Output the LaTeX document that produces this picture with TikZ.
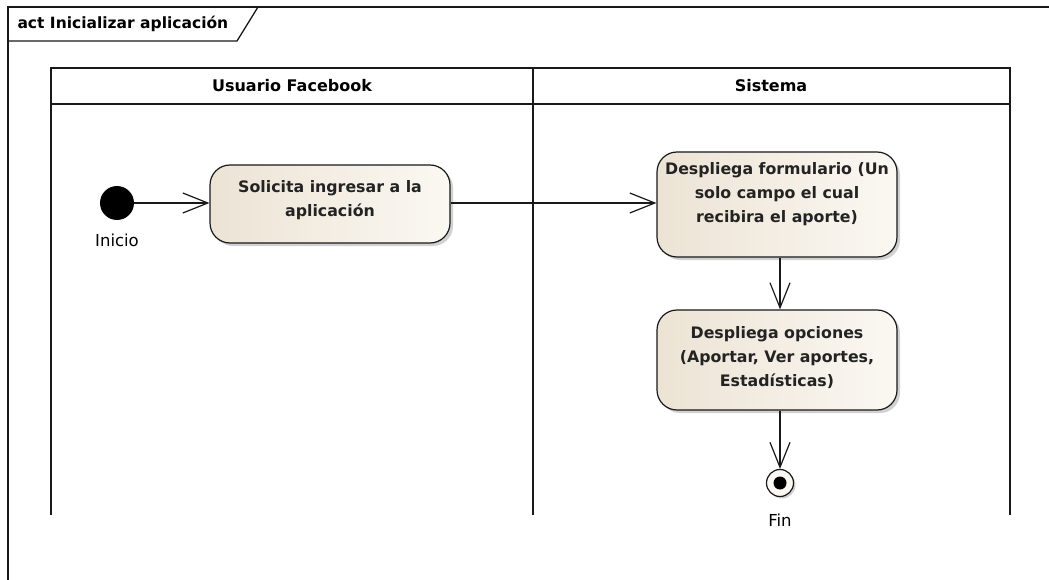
\documentclass[tikz,border=0pt]{standalone}
\usepackage{fontspec}
\setmainfont{DejaVu Sans}
\usetikzlibrary{arrows.meta,shadows}
\definecolor{actA}{RGB}{236,227,212}
\definecolor{actB}{RGB}{251,248,243}
\definecolor{txt}{RGB}{35,35,35}
\definecolor{lineC}{RGB}{25,25,25}
\begin{document}
\begin{tikzpicture}[x=1pt,y=-1pt,
  frameline/.style={draw=lineC, line width=1.3pt},
  action/.style={draw=lineC, line width=1.2pt, rounded corners=20pt,
    left color=actA, right color=actB, minimum width=240pt,
    drop shadow={shadow xshift=3pt, shadow yshift=-3pt, opacity=0.3, fill=black!60}},
  acttext/.style={text=txt, font=\bfseries\fontsize{15.8}{24}\selectfont, align=center},
  hdr/.style={text=black, font=\bfseries\fontsize{16}{18}\selectfont},
  lbl/.style={text=black, font=\fontsize{16.5}{18}\selectfont},
  flow/.style={draw=lineC, line width=1.2pt, -{Straight Barb[length=25pt,width=20pt,line width=1.2pt]}},
]
\useasboundingbox (0,0) rectangle (1049,580);
% frame
\draw[frameline] (8,585) -- (8,7) -- (1055,7);
\draw[frameline] (8,41) -- (237,41) -- (258,7);
\node[hdr, anchor=west, font=\bfseries\fontsize{15.5}{18}\selectfont] (title) at (14,24) {act Inicializar aplicación};
% swimlanes
\draw[frameline] (51,515) -- (51,68) -- (1010,68) -- (1010,515);
\draw[frameline] (51,104) -- (1010,104);
\draw[frameline] (533,68) -- (533,515);
\node[hdr] (lane1) at (292,86) {Usuario Facebook};
\node[hdr] (lane2) at (771,86) {Sistema};
% initial node
\node[circle, fill=black, minimum size=34pt, inner sep=0pt] (ini) at (117,203) {};
\node[lbl] (inilbl) at (117,240) {Inicio};
% actions
\node[action, minimum height=78pt] (a1) at (330,204) {};
\node[acttext] (a1t) at (330,200) {Solicita ingresar a la\\aplicación};
\node[action, minimum height=105pt] (a2) at (777,204.5) {};
\node[acttext] (a2t) at (777,194) {Despliega formulario (Un\\solo campo el cual\\recibira el aporte)};
\node[action, minimum height=100pt] (a3) at (777,360) {};
\node[acttext] (a3t) at (777,358) {Despliega opciones\\(Aportar, Ver aportes,\\Estadísticas)};
% final node
\node[circle, draw=lineC, line width=1.2pt, fill=actB, minimum size=27pt, inner sep=0pt,
  drop shadow={shadow xshift=2pt, shadow yshift=-2pt, opacity=0.3, fill=black!60}] (fin) at (780,483) {};
\node[circle, fill=black, minimum size=13pt, inner sep=0pt] (findot) at (fin.center) {};
\node[lbl] (finlbl) at (780,520) {Fin};
% connectors
\draw[flow] (ini) -- (a1.west |- ini);
\draw[flow] (a1.east |- ini) -- (a2.west |- ini);
\draw[flow] (a2.south -| fin) -- (a3.north -| fin);
\draw[flow] (a3.south -| fin) -- (fin.north);
\end{tikzpicture}
\end{document}
